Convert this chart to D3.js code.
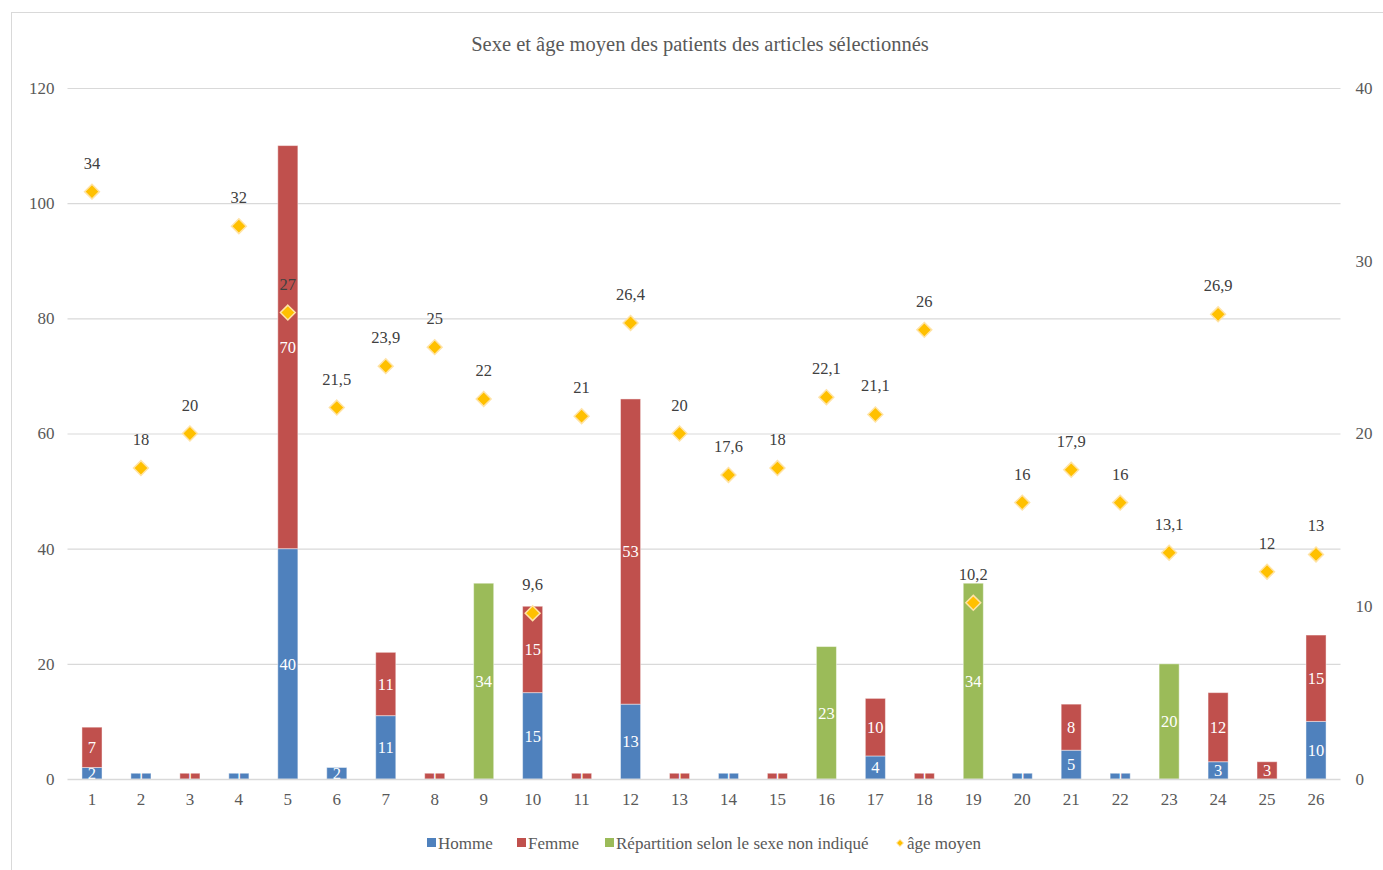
<!DOCTYPE html>
<html>
<head>
<meta charset="utf-8">
<script src="https://cdn.jsdelivr.net/npm/d3@7"></script>
<style>
  body { margin: 0; background: #fff; }
  text { font-family: "Liberation Serif", "DejaVu Serif", serif; }
</style>
</head>
<body>
<script>
var width = 1383,
    height = 870;

// data
var categories = d3.range(1, 27).map(String);
var homme = [2, 1, 0, 1, 40, 2, 11, 0, 0, 15, 0, 13, 0, 1, 0, 0, 4, 0, 0, 1, 5, 1, 0, 3, 0, 10];
var femme = [7, 0, 1, 0, 70, 0, 11, 1, 0, 15, 1, 53, 1, 0, 1, 0, 10, 1, 0, 0, 8, 0, 0, 12, 3, 15];
var nonIndique = [0, 0, 0, 0, 0, 0, 0, 0, 34, 0, 0, 0, 0, 0, 0, 23, 0, 0, 34, 0, 0, 0, 20, 0, 0, 0];
var ageMoyen = [34, 18, 20, 32, 27, 21.5, 23.9, 25, 22, 9.6, 21, 26.4, 20, 17.6, 18, 22.1, 21.1, 26, 10.2, 16, 17.9, 16, 13.1, 26.9, 12, 13];
var leftTicks = [0, 20, 40, 60, 80, 100, 120];
var rightTicks = [0, 10, 20, 30, 40];

var seriesNames = ["Homme", "Femme", "Répartition selon le sexe non indiqué"];
var colors = ["#4F81BD", "#C0504D", "#9BBB59"];
var gold = "#FFC000";

var svg = d3.select("body").append("svg")
    .attr("width", width)
    .attr("height", height);

// outer chart border
svg.append("rect")
    .attr("x", 11.5).attr("y", 12.5)
    .attr("width", width + 10).attr("height", height + 10)
    .attr("fill", "none")
    .attr("stroke", "#d9d9d9");

var margin = { left: 67.5, right: 1340.5, top: 88, bottom: 779 };

var x = d3.scaleBand()
    .domain(categories)
    .range([margin.left, margin.right])
    .paddingInner(0.59)
    .paddingOuter(0.295);

var y = d3.scaleLinear().domain([0, 120]).range([margin.bottom, margin.top]);
var y2 = d3.scaleLinear().domain([0, 40]).range([margin.bottom, margin.top]);

// title
svg.append("text")
    .attr("x", 700).attr("y", 51)
    .attr("text-anchor", "middle")
    .attr("fill", "#595959")
    .style("font-size", "20.5px")
    .text("Sexe et âge moyen des patients des articles sélectionnés");

// gridlines
svg.append("g").selectAll("line")
    .data(leftTicks.slice(1))
    .enter().append("line")
    .attr("x1", margin.left).attr("x2", margin.right)
    .attr("y1", function(d) { return y(d) + 0.5; })
    .attr("y2", function(d) { return y(d) + 0.5; })
    .attr("stroke", "#d9d9d9")
    .attr("stroke-width", 1.2);

// left axis
var leftAxis = svg.append("g")
    .attr("transform", "translate(" + (margin.left - 13) + ",0)")
    .call(d3.axisLeft(y).tickValues(leftTicks).tickSize(0).tickPadding(0));
leftAxis.select(".domain").remove();
leftAxis.selectAll("text").attr("fill", "#595959").style("font-size", "17px").style("font-family", "Liberation Serif");

// right axis
var rightAxis = svg.append("g")
    .attr("transform", "translate(" + (margin.right + 15) + ",0)")
    .call(d3.axisRight(y2).tickValues(rightTicks).tickSize(0).tickPadding(0));
rightAxis.select(".domain").remove();
rightAxis.selectAll("text").attr("fill", "#595959").style("font-size", "17px").style("font-family", "Liberation Serif");

// stacked bars
var table = categories.map(function(c, i) {
    return { cat: c, s0: homme[i], s1: femme[i], s2: nonIndique[i] };
});
var stack = d3.stack().keys(["s0", "s1", "s2"])(table);

var layers = svg.append("g").selectAll("g")
    .data(stack)
    .enter().append("g")
    .attr("fill", function(d, i) { return colors[i]; });

layers.selectAll("rect")
    .data(function(d) { return d.filter(function(e) { return e[1] > e[0]; }); })
    .enter().append("rect")
    .attr("x", function(d) { return x(d.data.cat); })
    .attr("width", x.bandwidth())
    .attr("y", function(d) { return y(d[1]); })
    .attr("height", function(d) { return y(d[0]) - y(d[1]); })
    .attr("stroke", "#ffffff")
    .attr("stroke-opacity", 0.45)
    .attr("stroke-width", 1);

layers.selectAll("text")
    .data(function(d) { return d.filter(function(e) { return e[1] > e[0]; }); })
    .enter().append("text")
    .attr("x", function(d) { return x(d.data.cat) + x.bandwidth() / 2; })
    .attr("y", function(d) { return (y(d[0]) + y(d[1])) / 2; })
    .attr("dy", "0.35em")
    .attr("text-anchor", "middle")
    .attr("fill", "#ffffff")
    .style("font-size", "16.5px")
    .text(function(d) { return d[1] - d[0]; });

// x axis line
svg.append("line")
    .attr("x1", margin.left).attr("x2", margin.right)
    .attr("y1", margin.bottom + 0.5).attr("y2", margin.bottom + 0.5)
    .attr("stroke", "#d9d9d9")
    .attr("stroke-width", 1.5);

var bottomAxis = svg.append("g")
    .attr("transform", "translate(0," + (margin.bottom + 14) + ")")
    .call(d3.axisBottom(x).tickSize(0).tickPadding(0));
bottomAxis.select(".domain").remove();
bottomAxis.selectAll("text").attr("fill", "#595959").style("font-size", "17px").style("font-family", "Liberation Serif");

// age markers
var diamond = d3.symbol().type(d3.symbolDiamond2).size(140);
var pts = svg.append("g").selectAll("g")
    .data(ageMoyen)
    .enter().append("g")
    .attr("transform", function(d, i) {
        return "translate(" + (x(categories[i]) + x.bandwidth() / 2) + "," + y2(d) + ")";
    });
pts.append("path")
    .attr("d", diamond)
    .attr("fill", gold)
    .attr("stroke", "#FFE3A6")
    .attr("stroke-width", 1.5);
pts.append("text")
    .attr("y", -23)
    .attr("text-anchor", "middle")
    .attr("fill", "#404040")
    .style("font-size", "16.5px")
    .text(function(d) { return String(d).replace(".", ","); });

// legend
var legend = svg.append("g").attr("transform", "translate(0,843)");
var legendX = [427, 517, 605];
seriesNames.forEach(function(name, i) {
    legend.append("rect")
        .attr("x", legendX[i]).attr("y", -5)
        .attr("width", 9).attr("height", 9)
        .attr("fill", colors[i]);
    legend.append("text")
        .attr("x", legendX[i] + 11).attr("y", 0)
        .attr("dy", "0.35em")
        .attr("fill", "#595959")
        .style("font-size", "17px")
        .text(name);
});
legend.append("path")
    .attr("transform", "translate(900,0)")
    .attr("d", d3.symbol().type(d3.symbolDiamond2).size(30))
    .attr("fill", gold)
    .attr("stroke", "#FFE3A6");
legend.append("text")
    .attr("x", 907).attr("y", 0)
    .attr("dy", "0.35em")
    .attr("fill", "#595959")
    .style("font-size", "17px")
    .text("âge moyen");
</script>
</body>
</html>
